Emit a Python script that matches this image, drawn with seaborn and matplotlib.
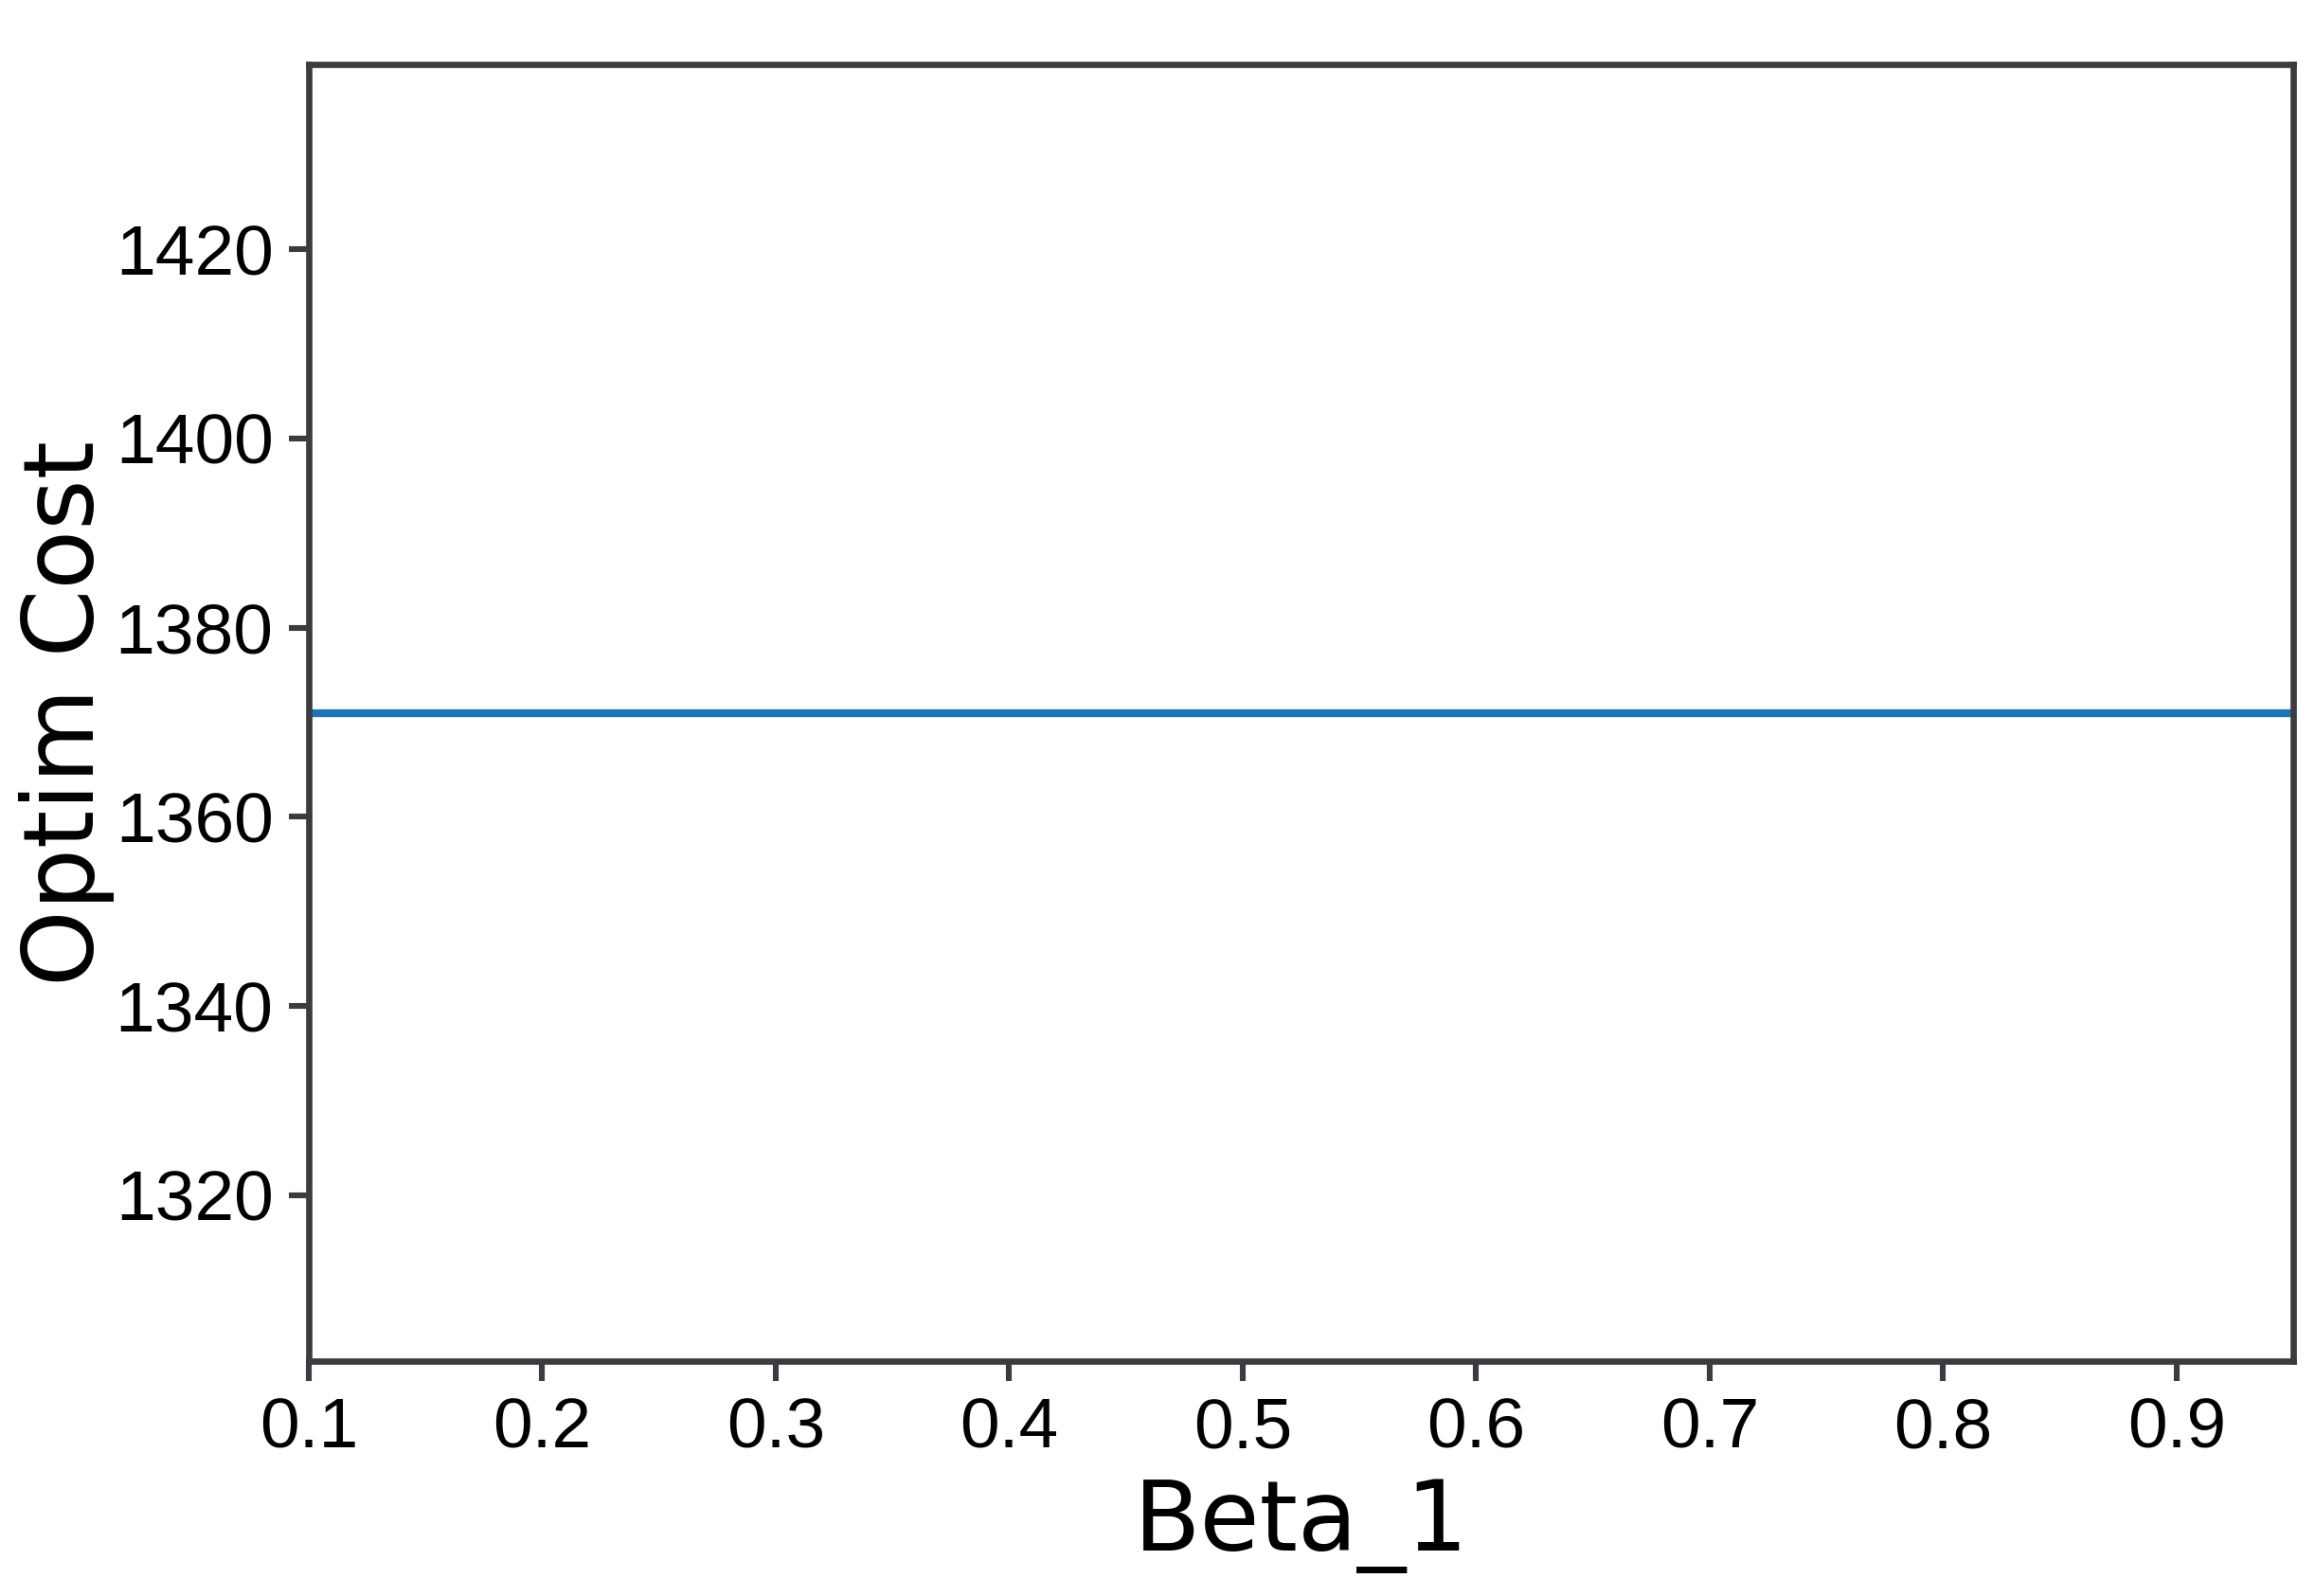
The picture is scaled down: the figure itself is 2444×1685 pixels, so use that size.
import matplotlib
matplotlib.use("Agg")
import matplotlib.pyplot as plt
import seaborn as sns
import pandas as pd

# values (flat cost curve)
beta_1 = [0.10, 0.15, 0.20, 0.25, 0.30, 0.35, 0.40, 0.45, 0.50,
          0.55, 0.60, 0.65, 0.70, 0.75, 0.80, 0.85, 0.90, 0.95]
optim_cost = [1371.0, 1371.0, 1371.0, 1371.0, 1371.0, 1371.0, 1371.0, 1371.0, 1371.0,
              1371.0, 1371.0, 1371.0, 1371.0, 1371.0, 1371.0, 1371.0, 1371.0, 1371.0]
x_ticks = [0.1, 0.2, 0.3, 0.4, 0.5, 0.6, 0.7, 0.8, 0.9]
y_ticks = [1320, 1340, 1360, 1380, 1400, 1420]
y_range = (1302.45, 1439.55)

df = pd.DataFrame({"Beta_1": beta_1, "Optim Cost": optim_cost})

sns.set_style("ticks")
plt.rcParams["font.family"] = ["DejaVu Sans"]
edge = "#3b3b40"

fig = plt.figure(figsize=(12.22, 8.425), dpi=200)
ax = fig.add_axes([0.1334, 0.1472, 0.8572, 0.8124])

sns.lineplot(data=df, x="Beta_1", y="Optim Cost", ax=ax, color="#1f74b4", linewidth=3.0)

ax.set_xlim(0.1, 0.95)
ax.set_ylim(*y_range)
ax.set_xticks(x_ticks)
ax.set_yticks(y_ticks)
ax.set_xticklabels([f"{v:.1f}" for v in x_ticks])
ax.set_yticklabels([str(v) for v in y_ticks])

for lbl in ax.get_xticklabels() + ax.get_yticklabels():
    lbl.set_fontfamily("Liberation Sans")
    lbl.set_fontsize(27)
    lbl.set_color("black")

ax.tick_params(axis="both", length=7.5, width=2.2, color=edge)
ax.tick_params(axis="y", pad=6.0)
ax.tick_params(axis="x", pad=6.0)

for sp in ax.spines.values():
    sp.set_color(edge)
    sp.set_linewidth(2.4)

ax.set_xlabel("Beta_1", fontsize=37, color="black")
ax.set_ylabel("Optim Cost", fontsize=37, color="black")
ax.xaxis.set_label_coords(0.5, -0.09)
ax.yaxis.set_label_coords(-0.098, 0.5)

fig.savefig("out.png", dpi=200, facecolor="white")
